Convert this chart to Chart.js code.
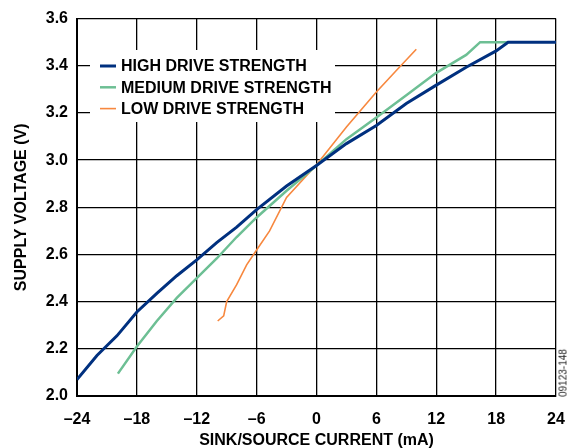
<!DOCTYPE html>
<html>
<head>
<meta charset="utf-8">
<script src="https://cdn.jsdelivr.net/npm/chart.js@4/dist/chart.umd.min.js"></script>
<style>
  html, body { margin: 0; padding: 0; background: #fff; }
  #wrap { position: relative; width: 582px; height: 448px; }
  #tag {
    position: absolute; left: 563px; top: 373px;
    transform: translate(-50%, -50%) rotate(-90deg);
    font: 10px "Liberation Sans", Arial, sans-serif; color: #222; white-space: nowrap;
  }
</style>
</head>
<body>
<div id="wrap">
  <canvas id="chart" width="582" height="448"></canvas>
  <div id="tag">09123-148</div>
</div>
<script>
// sink/source current (mA) vs supply voltage (V)
const highCurrent = [-24, -22, -20, -18, -16, -14, -12, -10, -8, -6, -3, 0, 3, 6, 9, 12, 15, 18, 19.2, 24]
const highVoltage = [2.07, 2.172, 2.255, 2.356, 2.435, 2.51, 2.577, 2.65, 2.716, 2.79, 2.89, 2.977, 3.07, 3.147, 3.24, 3.318, 3.394, 3.463, 3.5, 3.5]

const medCurrent = [-19.9, -18, -16, -14, -12, -10, -8, -6, -3, 0, 3, 6, 9, 12, 15, 16.4, 19.2]
const medVoltage = [2.095, 2.21, 2.318, 2.416, 2.50, 2.583, 2.674, 2.757, 2.87, 2.977, 3.089, 3.181, 3.275, 3.37, 3.446, 3.5, 3.5]

const lowCurrent = [-9.9, -9.3, -9, -8, -7, -6, -4.7, -3, 0, 3, 6, 8, 10]
const lowVoltage = [2.318, 2.34, 2.40, 2.472, 2.556, 2.619, 2.70, 2.842, 2.98, 3.14, 3.289, 3.38, 3.47]

const seriesNames = ['HIGH DRIVE STRENGTH', 'MEDIUM DRIVE STRENGTH', 'LOW DRIVE STRENGTH']
const seriesColors = ['#00307f', '#6dbf94', '#f7883f']
const seriesWidths = [3, 2.5, 1.6]

const xTicks = [-24, -18, -12, -6, 0, 6, 12, 18, 24]
const yTicks = [2.0, 2.2, 2.4, 2.6, 2.8, 3.0, 3.2, 3.4, 3.6]

const FONT = '"Liberation Sans", Arial, Helvetica, sans-serif'

function toPoints(xs, ys) {
  return xs.map((x, i) => ({ x: x, y: ys[i] }))
}

// legend sits inside the plot on a white box that hides the grid
const boxLegend = {
  id: 'boxLegend',
  beforeDatasetsDraw(chart) {
    const ctx = chart.ctx
    ctx.save()
    ctx.fillStyle = '#fff'
    ctx.fillRect(90, 50, 245, 72)
    ctx.font = 'bold 16px ' + FONT
    ctx.textBaseline = 'middle'
    chart.data.datasets.forEach((ds, i) => {
      const y = 66 + i * 21.3
      ctx.strokeStyle = ds.borderColor
      ctx.lineWidth = ds.borderWidth
      ctx.beginPath()
      ctx.moveTo(100, y)
      ctx.lineTo(116, y)
      ctx.stroke()
      ctx.fillStyle = '#000'
      ctx.fillText(ds.label, 121, y + 1)
    })
    ctx.restore()
  }
}

const datasets = [
  toPoints(highCurrent, highVoltage),
  toPoints(medCurrent, medVoltage),
  toPoints(lowCurrent, lowVoltage)
].map((pts, i) => ({
  label: seriesNames[i],
  data: pts,
  borderColor: seriesColors[i],
  backgroundColor: seriesColors[i],
  borderWidth: seriesWidths[i],
  pointRadius: 0,
  tension: 0,
  fill: false
}))

new Chart(document.getElementById('chart'), {
  type: 'line',
  data: { datasets: datasets },
  options: {
    responsive: false,
    animation: false,
    layout: { padding: { top: 14, right: 26, left: 0, bottom: 0 } },
    plugins: { legend: { display: false }, tooltip: { enabled: false } },
    scales: {
      x: {
        type: 'linear',
        min: -24,
        max: 24,
        afterFit: s => { s.height = 52 },
        afterBuildTicks: s => { s.ticks = xTicks.map(v => ({ value: v })) },
        grid: { color: '#000', lineWidth: 1.3, drawTicks: false },
        border: { color: '#000', width: 2 },
        ticks: {
          padding: 14,
          color: '#000',
          font: { family: FONT, size: 16, weight: 'bold' },
          callback: v => String(v).replace('-', '\u2013')
        },
        title: {
          display: true,
          text: 'SINK/SOURCE CURRENT (mA)',
          color: '#000',
          font: { family: FONT, size: 16, weight: 'bold' },
          padding: { top: 0, bottom: -2 }
        }
      },
      y: {
        min: 2.0,
        max: 3.6,
        afterFit: s => { s.width = 77 },
        afterBuildTicks: s => { s.ticks = yTicks.map(v => ({ value: v })) },
        grid: { color: '#000', lineWidth: 1.3, drawTicks: false },
        border: { color: '#000', width: 2 },
        ticks: {
          padding: 9,
          color: '#000',
          font: { family: FONT, size: 16, weight: 'bold' },
          callback: v => Number(v).toFixed(1)
        },
        title: {
          display: true,
          text: 'SUPPLY VOLTAGE (V)',
          color: '#000',
          font: { family: FONT, size: 16, weight: 'bold' },
          padding: { top: 12, bottom: 0 }
        }
      }
    }
  },
  plugins: [boxLegend]
})
</script>
</body>
</html>
